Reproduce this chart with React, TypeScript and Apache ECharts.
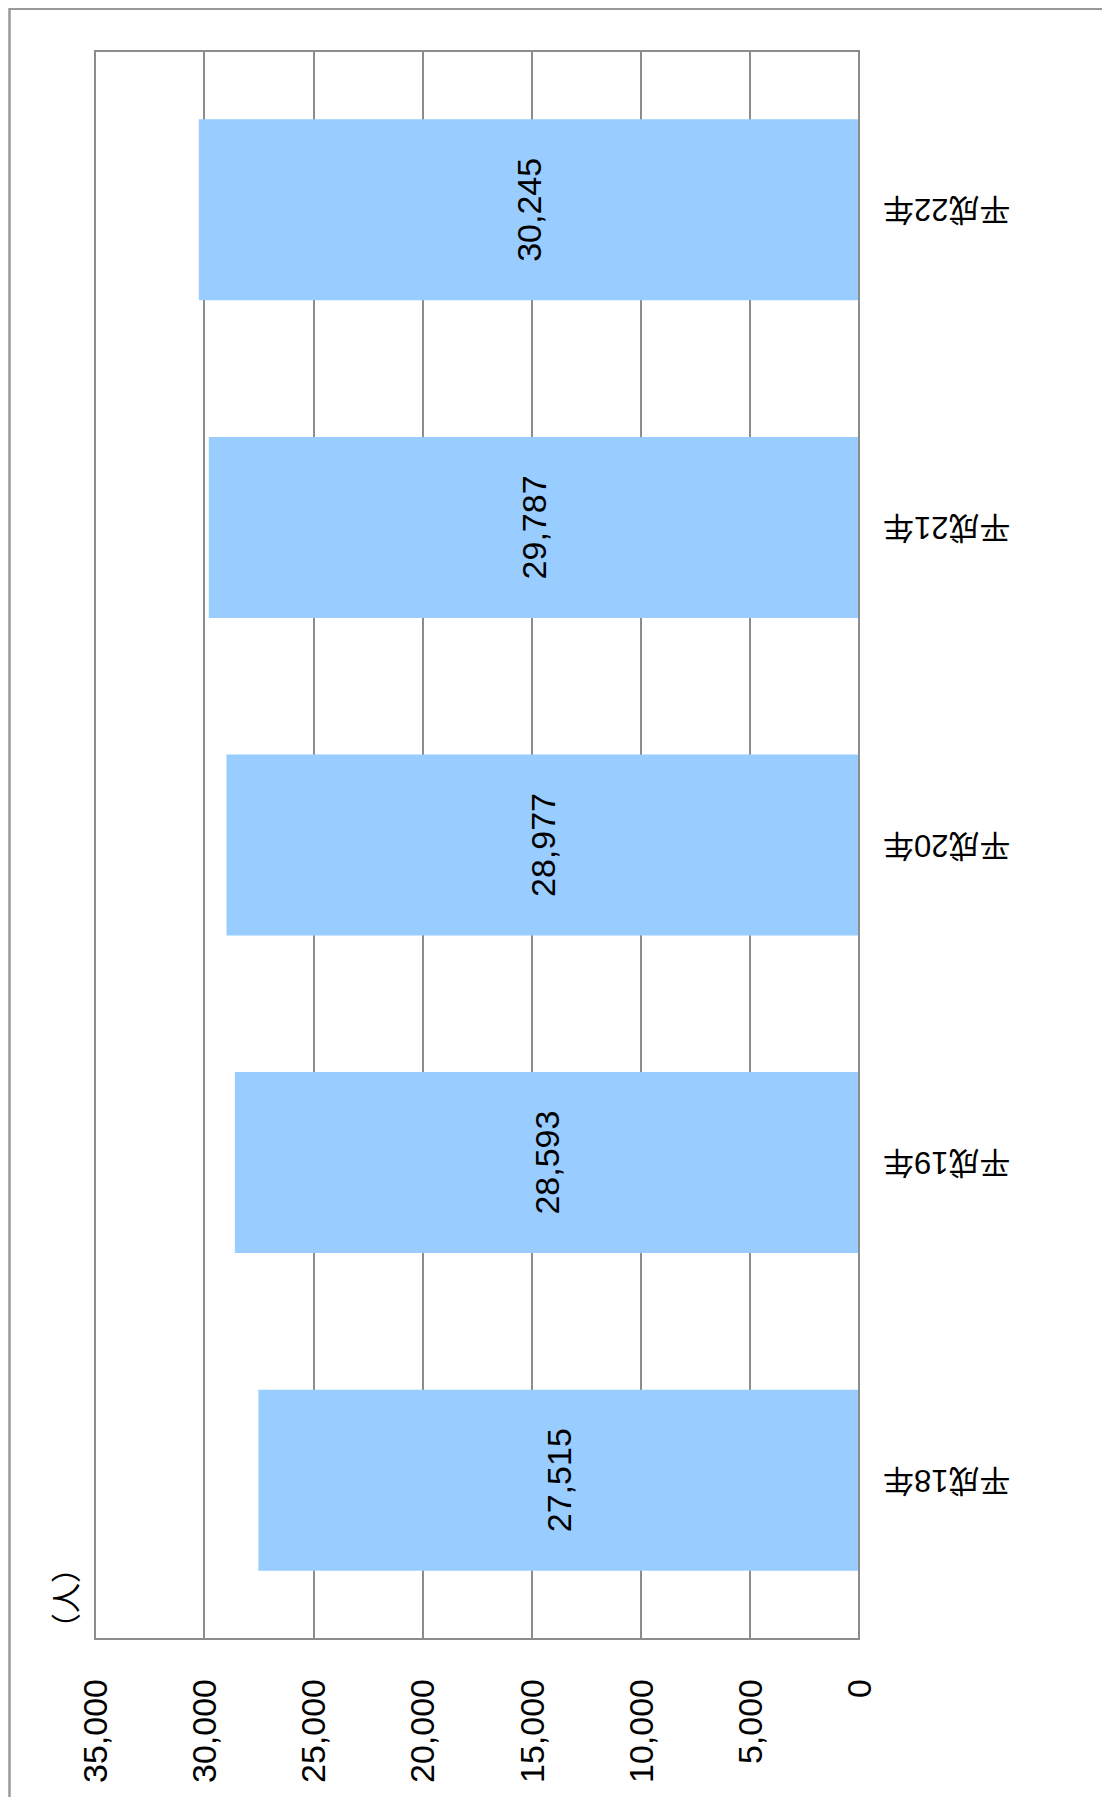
import React, { useEffect, useRef } from "react";
import * as echarts from "echarts";

const categories = ["平成18年", "平成19年", "平成20年", "平成21年", "平成22年"];
const values = [27515, 28593, 28977, 29787, 30245];
const unitLabel = "（人）";
const valueMin = 0;
const valueMax = 35000;
const valueStep = 5000;

const FONT = "'Liberation Sans', Arial, 'Noto Sans CJK JP', sans-serif";
const fmt = (v: number) => Number(v).toLocaleString("en-US");

export default function App() {
  const ref = useRef<HTMLDivElement>(null);
  useEffect(() => {
    if (!ref.current) return;
    const chart = echarts.init(ref.current, undefined, { renderer: "svg" });
    chart.setOption({
      animation: false,
      backgroundColor: "#ffffff",
      grid: {
        left: 87,
        top: 43,
        width: 764,
        height: 1588,
        show: true,
        borderColor: "#8c8c8c",
        borderWidth: 2,
        containLabel: false,
      },
      xAxis: {
        type: "value",
        inverse: true,
        min: valueMin,
        max: valueMax,
        interval: valueStep,
        position: "bottom",
        axisLine: { show: true, lineStyle: { color: "#8c8c8c", width: 2 } },
        axisTick: { show: false },
        splitLine: { show: true, lineStyle: { color: "#8c8c8c", width: 2 } },
        axisLabel: {
          rotate: 90,
          margin: 40,
          fontSize: 34,
          color: "#000",
          fontFamily: FONT,
          formatter: (v: number) => fmt(v),
        },
      },
      yAxis: {
        type: "category",
        data: categories,
        position: "right",
        z: 5,
        axisLine: { show: true, lineStyle: { color: "#8c8c8c", width: 2 } },
        axisTick: { show: false },
        splitLine: { show: false },
        axisLabel: {
          rotate: 180,
          margin: 24,
          fontSize: 31,
          color: "#000",
          fontFamily: FONT,
        },
      },
      series: [
        {
          type: "bar",
          data: values,
          barCategoryGap: "43%",
          itemStyle: { color: "#99ccff" },
          label: {
            show: true,
            position: "inside",
            rotate: 90,
            align: "center",
            verticalAlign: "middle",
            fontSize: 34,
            color: "#000",
            fontFamily: FONT,
            formatter: (p: any) => fmt(p.value),
          },
        },
      ],
      graphic: [
        {
          type: "rect",
          silent: true,
          shape: { x: 1.5, y: 0.8, width: 1300, height: 2000 },
          style: { fill: "none", stroke: "#999999", lineWidth: 2.5 },
          z: 10,
        },
        {
          type: "text",
          x: 58,
          y: 1590,
          rotation: Math.PI / 2,
          style: {
            text: unitLabel,
            fontSize: 30,
            fill: "#000",
            fontFamily: FONT,
            align: "center",
            verticalAlign: "middle",
          },
        },
      ],
    });
    return () => chart.dispose();
  }, []);
  return <div ref={ref} style={{ width: 1094, height: 1789 }} />;
}
